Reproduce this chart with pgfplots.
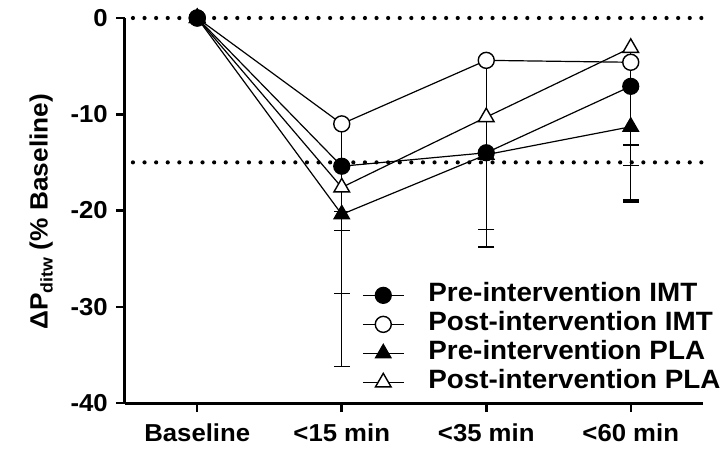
\documentclass[border=0pt]{standalone}
\usepackage{fontspec}
\setmainfont{Liberation Sans}[FakeStretch=1.05]
\usepackage{pgfplots}
\pgfplotsset{compat=1.18}
\begin{document}
\begin{tikzpicture}
\begin{axis}[
  at={(125pt,45pt)}, anchor=south west,
  scale only axis, width=578pt, height=385pt,
  xmin=-0.5, xmax=3.5, ymin=-40, ymax=0,
  clip=false,
  axis lines=left,
  axis line style={-, line width=3pt},
  xtick={0,1,2,3},
  xticklabels={Baseline,{<15 min},{<35 min},{<60 min}},
  ytick={-40,-30,-20,-10,0},
  yticklabels={-40,-30,-20,-10,0},
  tick align=outside, major tick length=9pt,
  tick style={line width=2.5pt, black},
  ticklabel style={font=\fontsize{24.5}{28}\selectfont\bfseries},
  yticklabel style={inner xsep=8pt},
  xticklabel style={yshift=-8pt},
  ylabel={ΔP{\fontsize{17}{20}\selectfont\raisebox{-5pt}{ditw}} (\% Baseline)},
  ylabel style={font=\fontsize{25}{30}\selectfont\bfseries, at={(axis description cs:-0.145,0.497)}, anchor=center},
  reverse legend,
  legend cell align=left,
  legend image code/.code={\draw[mark repeat=2,mark phase=2,#1] plot coordinates {(0pt,0pt) (20.5pt,0pt) (41pt,0pt)}; \path (65pt,0pt);},
  legend style={draw=none, fill=none, inner sep=0pt, row sep=6pt,
    at={(axis description cs:0.41,0.31)}, anchor=north west,
    font=\fontsize{26.5}{30}\selectfont\bfseries,
    nodes={inner sep=0pt, text height=18pt, text depth=5pt}},
  every axis plot/.append style={black, line width=1.2pt},
  error bars/error bar style={line width=1.4pt, black},
  error bars/error mark options={rotate=90, line width=1.4pt, mark size=8pt, black},
]
% reference dotted lines
\addplot[forget plot, black, line width=4.2pt, line cap=round, dash pattern=on 0pt off 11.6pt] coordinates {(-0.445,0) (3.51,0)};
\addplot[forget plot, black, line width=4.2pt, line cap=round, dash pattern=on 0pt off 11.6pt] coordinates {(-0.445,-15) (3.51,-15)};

% Post-intervention PLA
\addplot[mark=triangle*, mark size=9pt, mark options={fill=white, solid, line width=1.4pt},
  error bars/.cd, y dir=minus, y explicit] table[x=x, y=y, y error=e] {
x y e
0 0 0
1 -17.6 2.5
2 -10.3 3.5
3 -3.1 10.1
};
\addlegendentry{Post-intervention PLA}
% Pre-intervention PLA
\addplot[mark=triangle*, mark size=9pt, mark options={fill=black, solid},
  error bars/.cd, y dir=minus, y explicit] table[x=x, y=y, y error=e] {
x y e
0 0 0
1 -20.4 1.7
2 -14.2 0.4
3 -11.3 7.8
};
\addlegendentry{Pre-intervention PLA}
% Post-intervention IMT
\addplot[mark=*, mark size=8pt, mark options={fill=white, solid, line width=1.4pt},
  error bars/.cd, y dir=minus, y explicit] table[x=x, y=y, y error=e] {
x y e
0 0 0
1 -11.0 17.6
2 -4.4 17.6
3 -4.6 10.7
};
\addlegendentry{Post-intervention IMT}
% Pre-intervention IMT
\addplot[mark=*, mark size=8pt, mark options={fill=black, solid},
  error bars/.cd, y dir=minus, y explicit] table[x=x, y=y, y error=e] {
x y e
0 0 0
1 -15.4 20.8
2 -14.0 9.8
3 -7.1 11.8
};
\addlegendentry{Pre-intervention IMT}
\end{axis}
\pgfresetboundingbox
\path (0pt,0pt) rectangle (721pt,448pt);
\end{tikzpicture}
\end{document}
